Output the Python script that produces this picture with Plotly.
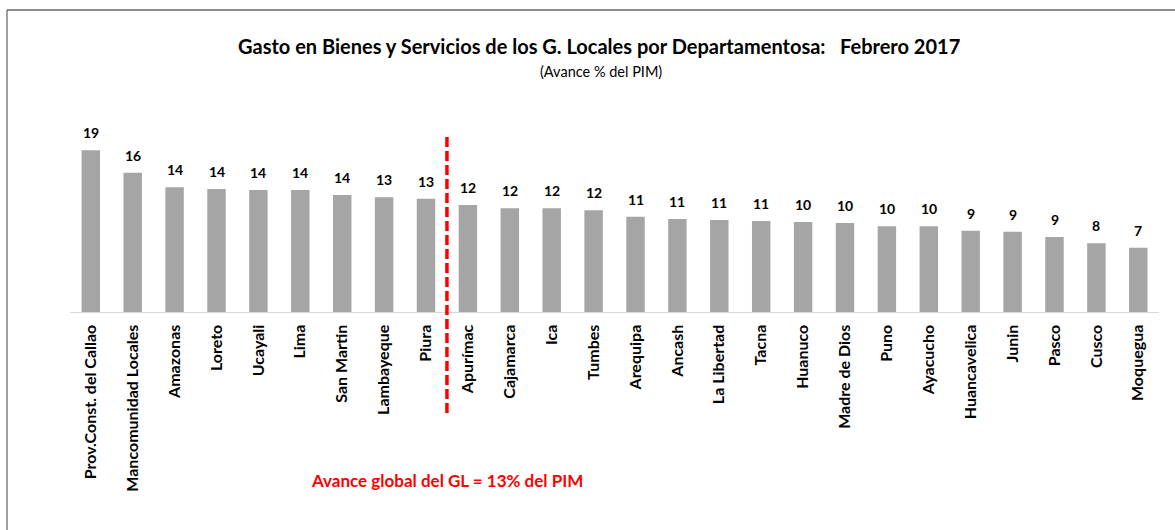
import plotly.graph_objects as go

categories = ["Prov.Const. del Callao", "Mancomunidad Locales", "Amazonas", "Loreto", "Ucayali",
              "Lima", "San Martin", "Lambayeque", "Piura", "Apurímac", "Cajamarca", "Ica", "Tumbes",
              "Arequipa", "Ancash", "La Libertad", "Tacna", "Huanuco", "Madre de Dios", "Puno",
              "Ayacucho", "Huancavelica", "Junin", "Pasco", "Cusco", "Moquegua"]
values = [18.71, 16.12, 14.45, 14.24, 14.12, 14.12, 13.55, 13.28, 13.12,
          12.39, 12.01, 12.01, 11.78, 11.04, 10.77, 10.66, 10.54,
          10.43, 10.31, 9.93, 9.93, 9.42, 9.31, 8.70, 7.97, 7.46]
split_after = 8  # index of last category left of the dashed line
title_text = "Gasto en Bienes y Servicios de los G. Locales por Departamentosa:&nbsp;&nbsp;&nbsp;Febrero 2017"
subtitle_text = "(Avance % del PIM)"
note_text = "Avance global del GL = 13% del PIM"

W, H = 1175, 530
FONT = "Lato, 'Open Sans', sans-serif"

fig = go.Figure()
fig.add_trace(go.Bar(x=categories, y=values, marker=dict(color="#a5a5a5", line=dict(width=0)),
                     hoverinfo="x+y"))

for c, v in zip(categories, values):
    fig.add_annotation(x=c, y=v, text="<b>%d</b>" % round(v), showarrow=False,
                       yanchor="bottom", yshift=7, font=dict(size=14, color="#000000", family=FONT))

x_dom = [69.85 / W, 1159.25 / W]
y_dom = [1 - 312.3 / H, 1 - 120 / H]

fig.update_layout(
    width=W, height=H, autosize=False,
    margin=dict(l=0, r=0, t=0, b=0),
    paper_bgcolor="white", plot_bgcolor="white",
    showlegend=False, bargap=0.56,
    font=dict(family=FONT, color="#000000"),
    xaxis=dict(domain=x_dom, showgrid=False, showline=True, linecolor="#d9d9d9", linewidth=1,
               ticks="", tickangle=-90, tickfont=dict(size=16, color="#000000", family=FONT),
               ticklabelstandoff=5,
               categoryorder="array", categoryarray=categories,
               tickprefix="<b>", ticksuffix="</b>"),
    yaxis=dict(domain=y_dom, range=[0, (312.3 - 120) / 8.66], visible=False, showgrid=False),
)

# title and subtitle
fig.add_annotation(xref="paper", yref="paper", x=599 / W, y=1 - 46 / H, text="<b>" + title_text + "</b>",
                   showarrow=False, xanchor="center", yanchor="middle",
                   font=dict(size=20, color="#000000", family=FONT))
fig.add_annotation(xref="paper", yref="paper", x=601 / W, y=1 - 72 / H, text=subtitle_text,
                   showarrow=False, xanchor="center", yanchor="middle",
                   font=dict(size=14.5, color="#000000", family=FONT))

# dashed red divider
fig.add_shape(type="line", xref="x", yref="paper", x0=split_after + 0.5, x1=split_after + 0.5,
              y0=1 - 413 / H, y1=1 - 137 / H, line=dict(color="#ff0000", width=3.5, dash="10px,4px"))
fig.add_annotation(xref="x", yref="paper", x=split_after + 0.5, y=1 - 480 / H,
                   text="<b>" + note_text + "</b>", showarrow=False, xanchor="center", yanchor="middle",
                   font=dict(size=17, color="#ff0000", family=FONT))

# frame
fig.add_shape(type="line", xref="paper", yref="paper", x0=7 / W, x1=1, y0=1 - 10 / H, y1=1 - 10 / H,
              line=dict(color="#8c8c8c", width=2))
fig.add_shape(type="line", xref="paper", yref="paper", x0=7 / W, x1=7 / W, y0=0, y1=1 - 10 / H,
              line=dict(color="#404040", width=1))

fig.write_html("out.html", config={"displayModeBar": False},
               post_script="document.body.style.margin='0';")
